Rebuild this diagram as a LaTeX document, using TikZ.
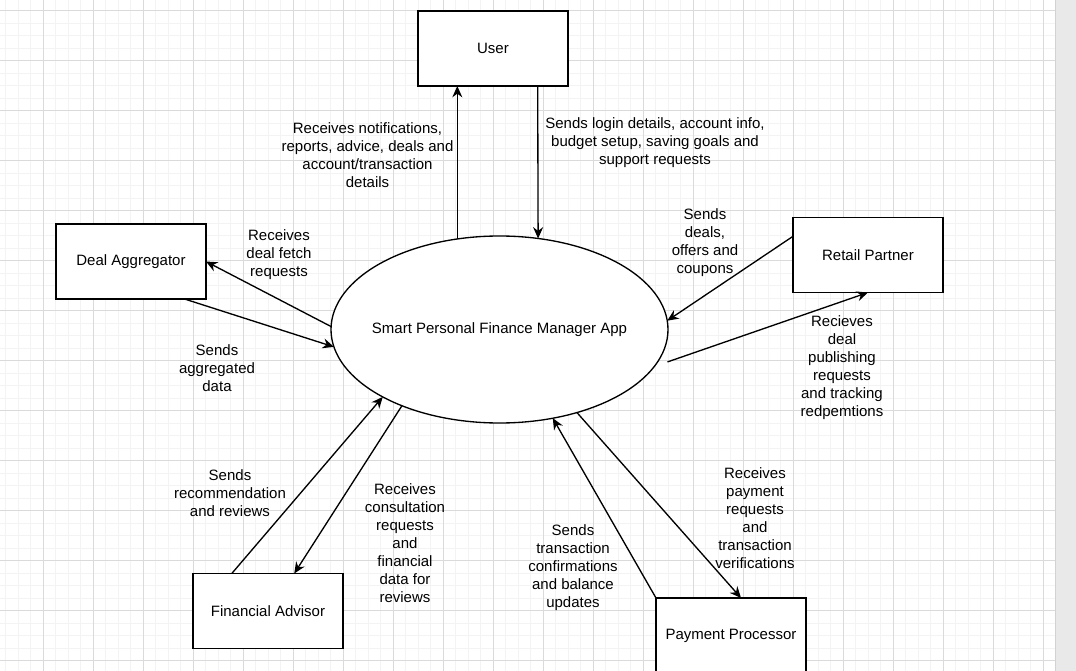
\documentclass[tikz,border=0pt]{standalone}
\usepackage{fontspec}
\setmainfont{Liberation Sans}
\usetikzlibrary{arrows.meta,shapes.geometric}
\definecolor{minorg}{HTML}{F3F3F3}
\definecolor{majorg}{HTML}{DADADA}
\definecolor{panel}{HTML}{E9E9E9}
\newcommand{\lblfont}{\fontsize{11.25pt}{13.5pt}\selectfont}
\begin{document}
\begin{tikzpicture}[x=0.75pt,y=-0.75pt,
  entity/.style={draw, line width=1pt, fill=white, minimum width=112.5pt, minimum height=56.25pt, inner sep=0pt, outer sep=0pt, font=\lblfont},
  proc/.style={ellipse, draw, line width=1pt, fill=white, minimum width=252.75pt, minimum height=140.25pt, inner sep=0pt, outer sep=0pt, font=\lblfont},
  lbl/.style={align=center, font=\lblfont, inner sep=0pt},
  flow/.style={line width=1pt, -{Stealth[length=8.5pt,width=7.5pt,inset=2.8pt]}},
  minorline/.style={minorg, line width=0.75pt},
  majorline/.style={majorg, line width=0.75pt}]
\clip (0,0) rectangle (1076,671);
\fill[white] (0,0) rectangle (1076,671);
% grid
\foreach \i in {0,...,83} { \draw[minorline] ({5.8+12.5*\i},0) -- ({5.8+12.5*\i},671); }
\foreach \j in {0,...,53} { \draw[minorline] (0,{-2+12.5*\j}) -- (1055,{-2+12.5*\j}); }
\foreach \i in {0,...,20} { \draw[majorline] ({43.3+50*\i},0) -- ({43.3+50*\i},671); }
\foreach \j in {0,...,13} { \draw[majorline] (0,{10.5+50*\j}) -- (1055,{10.5+50*\j}); }
\fill[panel] (1055,0) rectangle (1076,671);
\draw[gray!35, line width=0.75pt] (1055.5,0) -- (1055.5,671);

% nodes
\node[proc] (app) at (499.5,329.5) {\makebox[0pt][c]{Smart Personal Finance Manager App}};
\node[entity] (user) at (493,48.5) {User};
\node[entity] (da) at (131,261.5) {Deal Aggregator};
\node[entity] (rp) at (868,255) {Retail Partner};
\node[entity] (fa) at (268,611) {Financial Advisor};
\node[entity] (pp) at (731,635.5) {Payment Processor};

% connectors
\draw[flow] (app.115) -- (app.115 |- user.south);
\draw[flow] (user.-40) -- (app.67.5);
\draw[flow] (app.179.5) -- (da.east);
\draw[flow] (da.-35) -- (app.186);
\draw[flow] (rp.166.5) -- (app.3.6);
\draw[flow] ([shift={(9,1.5)}]app.-11) -- (rp.south);
\draw[flow] (fa.134) -- (app.210.75);
\draw[flow] (app.218.9) -- (fa.55.3);
\draw[flow] (pp.north west) -- (app.-59.5);
\draw[flow] (app.-47.85) -- (pp.75.2);

% labels
\node[lbl] (l1) at (367.5,155) {Receives notifications,\\reports, advice, deals and\\account/transaction\\details};
\node[lbl] (l2) at (655,143) {Sends login details, account info,\\budget setup, saving goals and\\support requests};
\node[lbl] (l3) at (705,243) {Sends\\deals,\\offers and\\coupons};
\node[lbl] (l4) at (279,255) {Receives\\deal fetch\\requests};
\node[lbl] (l5) at (217,368) {Sends\\aggregated\\data};
\node[lbl] (l6) at (842,368) {Recieves\\deal\\publishing\\requests\\and tracking\\redpemtions};
\node[lbl] (l7) at (230,493) {Sends\\recommendation\\and reviews};
\node[lbl] (l8) at (405,543) {Receives\\consultation\\requests\\and\\financial\\data for\\reviews};
\node[lbl] (l9) at (573,568) {Sends\\transaction\\confirmations\\and balance\\updates};
\node[lbl] (l10) at (755,518) {Receives\\payment\\requests\\and\\transaction\\verifications};
\end{tikzpicture}
\end{document}
